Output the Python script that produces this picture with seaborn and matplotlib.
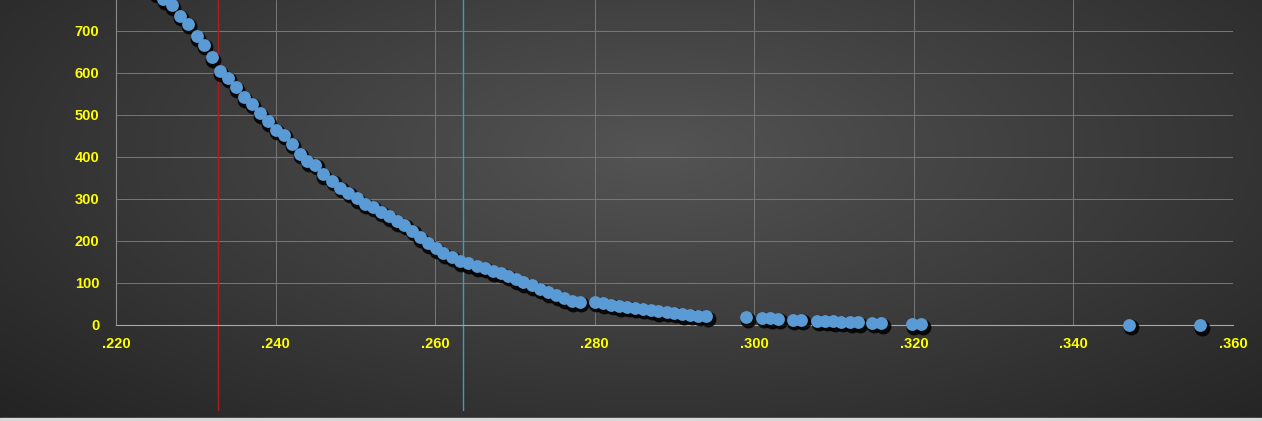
import numpy as np
import pandas as pd
import matplotlib
matplotlib.use('Agg')
import matplotlib.pyplot as plt
import matplotlib.transforms as mtransforms
import seaborn as sns

# Values
ratio = [0.2250, 0.2259, 0.2270, 0.2280, 0.2290, 0.2301, 0.2310, 0.2320, 0.2330, 0.2340,
         0.2350, 0.2360, 0.2370, 0.2380, 0.2390, 0.2400, 0.2410, 0.2420, 0.2430, 0.2440,
         0.2450, 0.2459, 0.2471, 0.2481, 0.2491, 0.2502, 0.2512, 0.2522, 0.2532, 0.2542,
         0.2552, 0.2561, 0.2571, 0.2581, 0.2591, 0.2601, 0.2610, 0.2621, 0.2631, 0.2641,
         0.2652, 0.2662, 0.2672, 0.2682, 0.2691, 0.2701, 0.2710, 0.2721, 0.2731, 0.2741,
         0.2752, 0.2761, 0.2771, 0.2781, 0.2800, 0.2810, 0.2821, 0.2831, 0.2841, 0.2850,
         0.2860, 0.2870, 0.2879, 0.2890, 0.2900, 0.2910, 0.2920, 0.2930, 0.2940, 0.2990,
         0.3010, 0.3020, 0.3030, 0.3048, 0.3059, 0.3079, 0.3089, 0.3099, 0.3109, 0.3120,
         0.3130, 0.3148, 0.3159, 0.3198, 0.3209, 0.3470, 0.3559]
count = [792, 775, 761, 735, 716, 687, 666, 637, 604, 588,
         566, 542, 526, 504, 485, 464, 452, 431, 407, 390,
         381, 359, 343, 326, 314, 302, 288, 281, 269, 259,
         247, 238, 224, 209, 195, 183, 171, 162, 152, 147,
         140, 136, 128, 124, 117, 109, 102, 95, 86, 78,
         71, 64, 57, 55, 55, 52, 48, 45, 43, 41,
         39, 36, 33, 31, 29, 26, 24, 22, 21, 19,
         17, 16, 15, 13, 12, 10, 10, 9, 8, 7,
         6, 5, 4, 2, 2, 1, 0]

red_line = 0.2328
blue_line = 0.2635

x_ticks = [0.22, 0.24, 0.26, 0.28, 0.30, 0.32, 0.34, 0.36]
x_labels = ['.220', '.240', '.260', '.280', '.300', '.320', '.340', '.360']
y_ticks = [0, 100, 200, 300, 400, 500, 600, 700]

df = pd.DataFrame({'ratio': ratio, 'count': count})

sns.set_style('white')
plt.rcParams['font.family'] = ['Liberation Sans', 'DejaVu Sans']

fig = plt.figure(figsize=(12.62, 4.21), dpi=100)

# dark radial gradient background
bg = fig.add_axes([0, 0, 1, 1], zorder=-10)
gx, gy = np.meshgrid(np.linspace(0, 1, 400), np.linspace(0, 1, 200))
r = np.sqrt(((gx - 0.52) / 0.75) ** 2 + ((gy - 0.36) / 0.95) ** 2)
shade = np.clip(0.33 - 0.2 * r, 0.14, 0.33)
bg.imshow(np.dstack([shade] * 3), aspect='auto', extent=[0, 1, 0, 1], origin='upper')
bg.add_patch(plt.Rectangle((0, 0), 1, 3 / 421, color='#d8d8d8', transform=bg.transAxes))
bg.set_axis_off()

ax = fig.add_axes([116 / 1262, 1 - 325 / 421, (1233 - 116) / 1262, 325 / 421])
ax.set_facecolor('none')

# shadow behind the markers
shadow = mtransforms.offset_copy(ax.transData, fig=fig, x=1.5, y=-2.5, units='dots')
ax.scatter(df['ratio'], df['count'], s=130, color='black', alpha=0.85,
           linewidths=0, transform=shadow, zorder=3, clip_on=False)
sns.scatterplot(data=df, x='ratio', y='count', ax=ax, color='#5b9bd5', s=85,
                linewidth=0, zorder=4, clip_on=False)

ax.axvline(red_line, ymin=-0.262, ymax=1, color='#b01c1c', lw=1, clip_on=False, zorder=2)
ax.axvline(blue_line, ymin=-0.262, ymax=1, color='#3a9cbf', lw=1, clip_on=False, zorder=2)

ax.set_xlim(0.22, 0.36)
ax.set_ylim(0, 773)
ax.set_xticks(x_ticks)
ax.set_xticklabels(x_labels)
ax.set_yticks(y_ticks)
ax.grid(True, color='#787878', lw=0.7)
ax.set_axisbelow(True)
for s in ['top', 'right']:
    ax.spines[s].set_visible(False)
ax.spines['left'].set_color('#8a8a8a')
ax.spines['bottom'].set_color('#a8a8a8')
ax.tick_params(length=0, colors='#ffff00', labelsize=10.5, pad=12)
for lab in ax.get_xticklabels() + ax.get_yticklabels():
    lab.set_fontweight('bold')
ax.tick_params(axis='x', pad=9)
ax.set_xlabel('')
ax.set_ylabel('')

# keep the top of the plot clipped like the cropped reference
fig.savefig('out.png', dpi=100)
